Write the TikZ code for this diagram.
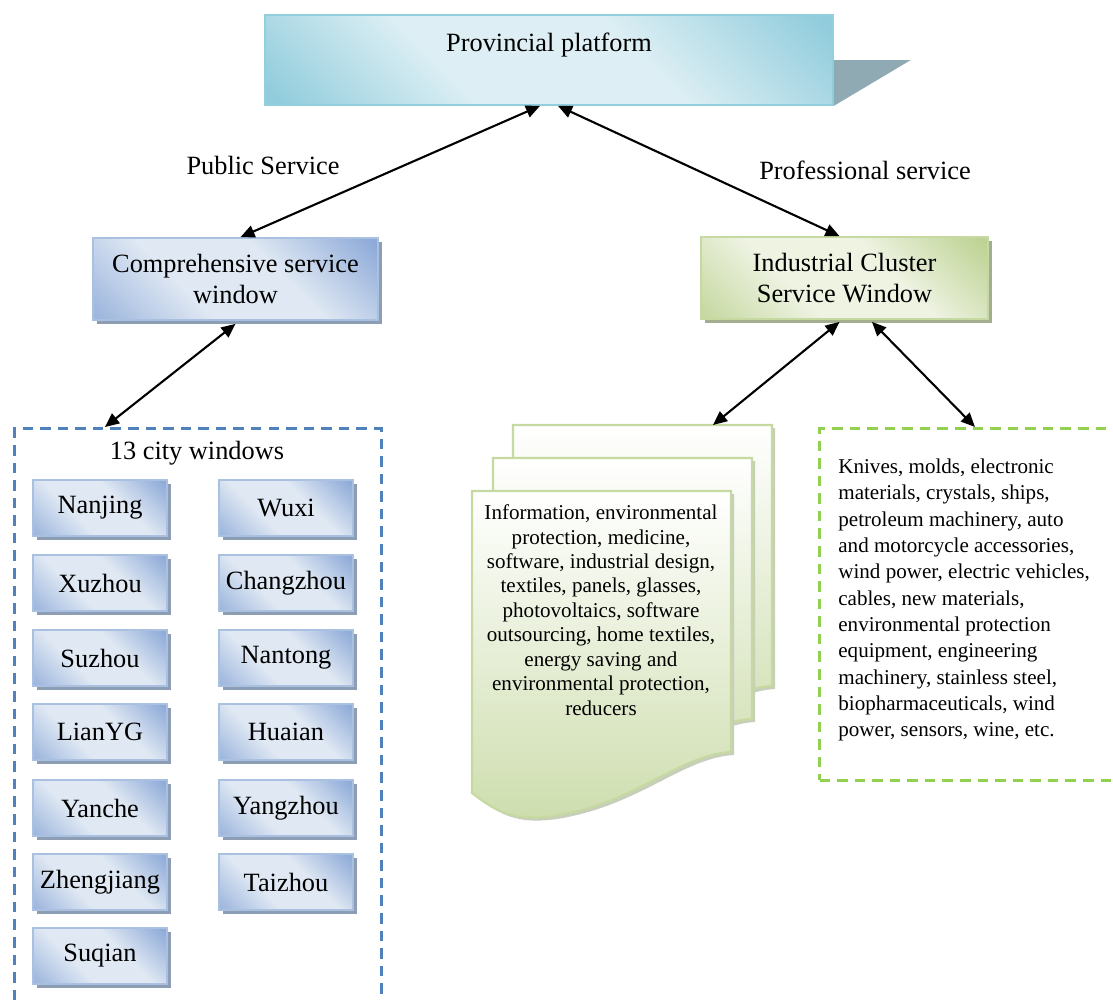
\documentclass[tikz,border=0pt]{standalone}
\usepackage{fontspec}
\setmainfont{Liberation Serif}
\usetikzlibrary{arrows.meta,positioning,shadows}

\definecolor{bluelight}{HTML}{DFE8F3}
\definecolor{bluedark}{HTML}{8DAAD8}
\definecolor{blueedge}{HTML}{A9C0E0}
\definecolor{blueshadow}{HTML}{8C9DB4}
\definecolor{greenlight}{HTML}{EEF3E2}
\definecolor{greendark}{HTML}{BDD292}
\definecolor{greenedge}{HTML}{C6D9A0}
\definecolor{greenshadow}{HTML}{A3AD90}
\definecolor{cyanlight}{HTML}{DDEFF4}
\definecolor{cyandark}{HTML}{90CCDC}
\definecolor{cyanedge}{HTML}{93CEDD}
\definecolor{cyanshadow}{HTML}{8FAAB2}
\definecolor{groupblue}{HTML}{4F81BD}
\definecolor{groupgreen}{HTML}{92D050}

\pgfdeclarehorizontalshading{bluesh}{100bp}{color(0bp)=(bluedark!80!bluelight); color(16bp)=(bluedark!80!bluelight);
  color(38bp)=(bluelight); color(60bp)=(bluelight); color(84bp)=(bluedark); color(100bp)=(bluedark)}
\pgfdeclarehorizontalshading{greensh}{100bp}{color(0bp)=(greendark!80!greenlight); color(16bp)=(greendark!80!greenlight);
  color(38bp)=(greenlight); color(60bp)=(greenlight); color(84bp)=(greendark); color(100bp)=(greendark)}
\pgfdeclarehorizontalshading{cyansh}{100bp}{color(0bp)=(cyandark); color(16bp)=(cyandark);
  color(38bp)=(cyanlight); color(60bp)=(cyanlight); color(84bp)=(cyandark); color(100bp)=(cyandark)}

\tikzset{
  bluebox/.style={draw=blueedge, line width=1pt, shading=bluesh, shading angle=45,
    drop shadow={shadow xshift=0.08cm, shadow yshift=-0.08cm, fill=blueshadow, opacity=1},
    font=\fontsize{15}{18}\selectfont, align=center, inner sep=0pt},
  greenbox/.style={draw=greenedge, line width=1pt, shading=greensh, shading angle=45,
    drop shadow={shadow xshift=0.08cm, shadow yshift=-0.08cm, fill=greenshadow, opacity=1},
    font=\fontsize{15}{18}\selectfont, align=center, inner sep=0pt},
  citybox/.style={bluebox, minimum width=2.68cm, minimum height=1.12cm},
  groupbox/.style={line width=1.7pt, dash pattern=on 6pt off 4pt, inner sep=0pt},
  link/.style={line width=1.2pt, {Triangle[length=8pt,width=7pt]}-{Triangle[length=8pt,width=7pt]}},
  plain/.style={font=\fontsize{15}{18}\selectfont, inner sep=0pt},
}

\begin{document}
\begin{tikzpicture}[x=0.02cm,y=-0.02cm]
\useasboundingbox (0,0) rectangle (1113,1001);

% top platform
\node[draw=cyanedge, line width=1pt, shading=cyansh, shading angle=45,
  minimum width=11.36cm, minimum height=1.8cm] (plat) at (549,60) {};
\fill[cyanshadow] (plat.east) -- ++(77,0) -- (plat.south east) -- cycle;
\node[plain] (plattxt) at (549,45) {Provincial platform};

% second level
\node[bluebox, minimum width=5.7cm, minimum height=1.64cm] (comp) at (235.5,279) {Comprehensive service\\window};
\node[greenbox, minimum width=5.74cm, minimum height=1.64cm] (ind) at (844.5,278) {Industrial Cluster\\Service Window};

\node[plain] (pub) at (263,165) {Public Service};
\node[plain] (prof) at (865,170) {Professional service};

% city windows
\node[groupbox, draw=groupblue, minimum width=7.34cm, minimum height=11.7cm, anchor=north west] (citygrp) at (13,427) {};
\node[plain] (citytitle) at (197,453) {13 city windows};
\node[citybox] (nanjing) at (100,508) {Nanjing};
\node[citybox] (wuxi) at (286,508) {Wuxi};
\node[citybox] (xuzhou) at (100,583) {Xuzhou};
\node[citybox] (changzhou) at (286,583) {Changzhou};
\node[citybox] (suzhou) at (100,658) {Suzhou};
\node[citybox] (nantong) at (286,658) {Nantong};
\node[citybox] (lianyg) at (100,732) {LianYG};
\node[citybox] (huaian) at (286,732) {Huaian};
\node[citybox] (yanche) at (100,808) {Yanche};
\node[citybox] (yangzhou) at (286,808) {Yangzhou};
\node[citybox] (zhengjiang) at (100,882) {Zhengjiang};
\node[citybox] (taizhou) at (286,882) {Taizhou};
\node[citybox] (suqian) at (100,956) {Suqian};

% stacked documents
\foreach \dx/\dy in {41/-66, 21/-33, 0/0} {
  \begin{scope}[shift={(\dx,\dy)}]
    \fill[greenshadow!60] (475,494) -- (734,494) -- (734,755)
      .. controls (683,758) and (643,803) .. (563,818)
      .. controls (523,825) and (503,818) .. (475,796) -- cycle;
    \draw[greenedge, line width=1.2pt, top color=white, bottom color=greendark!75]
      (472,491) -- (731,491) -- (731,752)
      .. controls (680,755) and (640,800) .. (560,815)
      .. controls (520,822) and (500,815) .. (472,793) -- cycle;
  \end{scope}
}
\coordinate (sheettop) at (713,425);
\node[font=\fontsize{12}{13.9}\selectfont, align=center, inner sep=0pt] (doctxt) at (601,610)
  {Information, environmental\\protection, medicine,\\software, industrial design,\\textiles, panels, glasses,\\photovoltaics, software\\outsourcing, home textiles,\\energy saving and\\environmental protection,\\reducers};

% right group
\node[groupbox, draw=groupgreen, minimum width=6.2cm, minimum height=7.04cm, anchor=north west] (greengrp) at (818,427) {};
\node[font=\fontsize{12}{15}\selectfont, align=left, inner sep=0pt, anchor=west] (righttxt) at (838,600)
  {Knives, molds, electronic\\materials, crystals, ships,\\petroleum machinery, auto\\and motorcycle accessories,\\wind power, electric vehicles,\\cables, new materials,\\environmental protection\\equipment, engineering\\machinery, stainless steel,\\biopharmaceuticals, wind\\power, sensors, wine, etc.};

% connectors
\draw[link] ([xshift=-0.18cm]plat.south) -- ([xshift=0.1cm]comp.north);
\draw[link] ([xshift=0.18cm]plat.south) -- ([xshift=-0.1cm]ind.north);
\draw[link] ([yshift=-0.06cm]comp.south) -- ([xshift=1.84cm]citygrp.north west);
\draw[link] ([xshift=-0.1cm,yshift=-0.04cm]ind.south) -- (sheettop);
\draw[link] ([xshift=0.55cm,yshift=-0.04cm]ind.south) -- ([xshift=3.14cm]greengrp.north west);
\end{tikzpicture}
\end{document}
